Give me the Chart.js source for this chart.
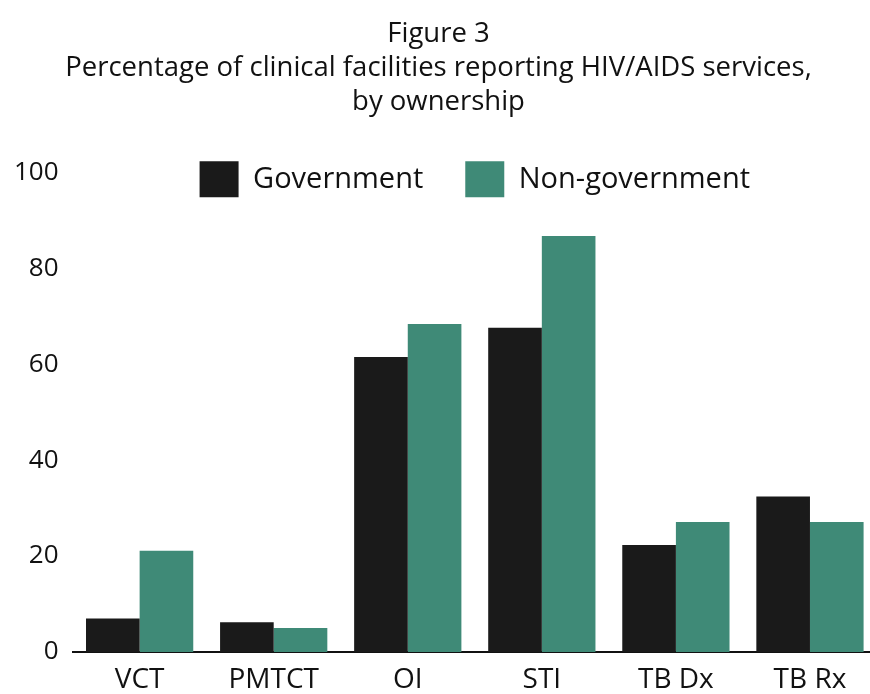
<!DOCTYPE html>
<html>
<head>
<meta charset="utf-8">
<script src="https://cdn.jsdelivr.net/npm/chart.js@4.4.1/dist/chart.umd.min.js"></script>
<style>
  html, body { margin: 0; padding: 0; background: #fff; overflow: hidden; }
  #wrap { position: relative; width: 880px; height: 694px; }
</style>
</head>
<body>
<div id="wrap"><canvas id="chart" width="880" height="694"></canvas></div>
<script>
const services = ["VCT", "PMTCT", "OI", "STI", "TB Dx", "TB Rx"];
const government = [7.0, 6.2, 61.5, 67.6, 22.3, 32.4];
const nonGovernment = [21.1, 5.0, 68.4, 86.7, 27.1, 27.1];
const yTicks = [0, 20, 40, 60, 80, 100];
const titleLines = [
  "Figure 3",
  "Percentage of clinical facilities reporting HIV/AIDS services,",
  "by ownership"
];

const FONT = "'Open Sans', 'Noto Sans', sans-serif";
const LEGEND_OVERLAP = 35;

// the legend sits partly beside the top of the plot, so take back some of its
// height for the plot and let it draw past its (shortened) box
const legendOverlap = {
  id: "legendOverlap",
  afterInit(chart) {
    const legend = chart.legend;
    if (!legend) return;
    const fit = legend.fit;
    const draw = legend.draw;
    legend.fit = function () {
      fit.call(this);
      this.height -= LEGEND_OVERLAP;
    };
    legend.draw = function () {
      this.bottom += LEGEND_OVERLAP;
      draw.call(this);
      this.bottom -= LEGEND_OVERLAP;
    };
  }
};

new Chart(document.getElementById("chart"), {
  type: "bar",
  data: {
    labels: services,
    datasets: [
      {
        label: "Government",
        data: government,
        backgroundColor: "#1a1a1a",
        categoryPercentage: 0.8,
        barPercentage: 1.0
      },
      {
        label: "Non-government",
        data: nonGovernment,
        backgroundColor: "#3f8a77",
        categoryPercentage: 0.8,
        barPercentage: 1.0
      }
    ]
  },
  options: {
    responsive: false,
    animation: false,
    layout: { padding: { left: 0, right: 3, top: 17, bottom: 0 } },
    plugins: {
      title: {
        display: true,
        text: titleLines,
        color: "#111",
        font: { family: FONT, size: 27.5, weight: "normal", lineHeight: 1.24 },
        padding: { top: 0, bottom: 0 }
      },
      legend: {
        display: true,
        position: "top",
        fullSize: false,
        labels: {
          color: "#111",
          boxWidth: 39,
          boxHeight: 36,
          padding: 42,
          font: { family: FONT, size: 29 }
        }
      },
      tooltip: { enabled: false }
    },
    scales: {
      x: {
        afterFit: (axis) => {
          axis.height = 42;
        },
        grid: { display: false, drawTicks: false },
        border: { display: true, color: "#111", width: 2 },
        ticks: {
          color: "#111",
          padding: 16,
          font: { family: FONT, size: 28, lineHeight: 0.857 }
        }
      },
      y: {
        min: 0,
        max: 100,
        afterBuildTicks: (axis) => {
          axis.ticks = yTicks.map((v) => ({ value: v }));
        },
        grid: { display: false, drawTicks: false },
        border: { display: false },
        ticks: {
          color: "#111",
          padding: 14,
          font: { family: FONT, size: 26 }
        }
      }
    }
  },
  plugins: [legendOverlap]
});
</script>
</body>
</html>
